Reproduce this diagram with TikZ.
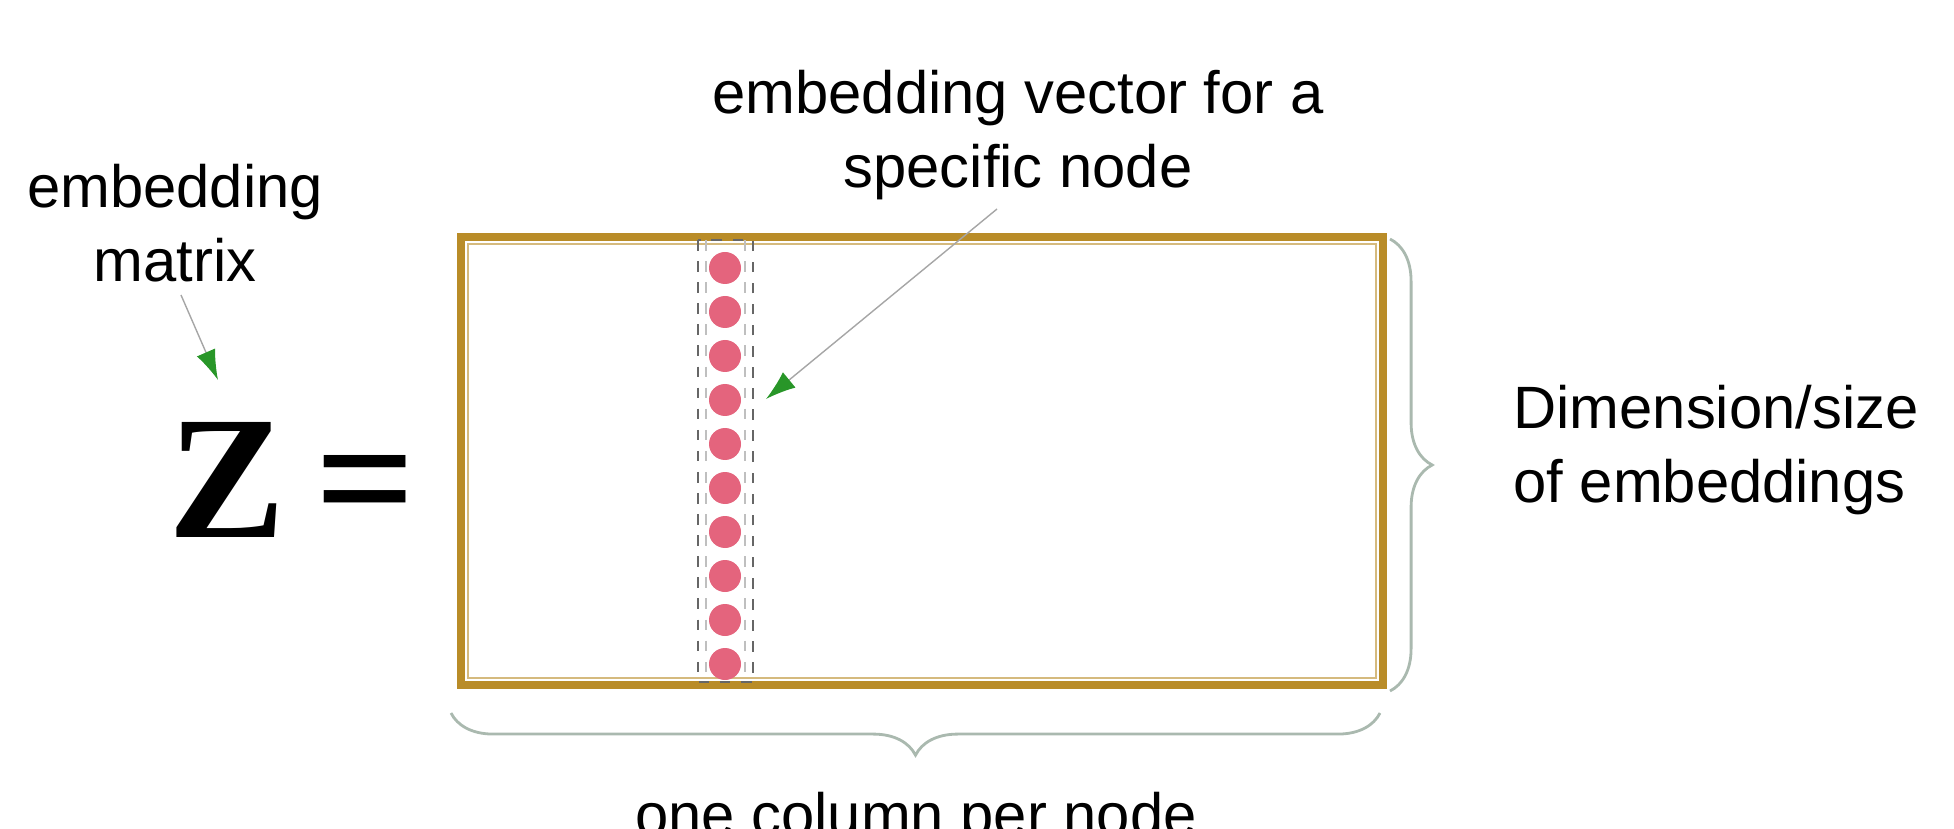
\documentclass[tikz,border=0pt]{standalone}
\usepackage{fontspec}
\setmainfont{Liberation Sans}
\newfontfamily\zfont{Liberation Serif}
\usetikzlibrary{decorations.pathreplacing,arrows.meta}
\definecolor{gold}{RGB}{185,140,40}
\definecolor{dotred}{RGB}{228,100,125}
\definecolor{pointer}{RGB}{40,150,40}
\definecolor{bracecol}{RGB}{170,185,175}

\begin{document}
\begin{tikzpicture}[x=1cm, y=1cm,
	lbl/.style={font=\fontsize{17pt}{21pt}\selectfont, align=center},
	ptr/.style={draw=gray!70, thin, -{Latex[length=3mm,width=2mm,color=pointer]}},
	brc/.style={draw=bracecol, thick, decorate, decoration={brace, amplitude=12pt}}]
\useasboundingbox (0,0) rectangle (19.54,8.28);

% matrix
\draw[gold, line width=2.5pt] (4.61,5.91) rectangle (13.83,1.43);
\draw[gold!60, line width=0.6pt] (4.68,5.84) rectangle (13.76,1.50);

% one column
\draw[gray!80!black, dashed, thick] (6.98,5.88) rectangle (7.53,1.46);
\draw[gray!50, dashed, thin] (7.06,5.88) -- (7.06,1.46);
\draw[gray!50, dashed, thin] (7.45,5.88) -- (7.45,1.46);
\foreach \i in {0,...,9}
	\fill[dotred] (7.25,{5.60-0.44*\i}) circle (0.16);

\node[lbl] (vec) at (10.18,6.93) {embedding vector for a\\specific node};
\node[lbl] (mat) at (1.75,6.05) {embedding\\matrix};
\node[font=\zfont\bfseries\fontsize{50pt}{54pt}\selectfont] (zeq) at (2.92,3.48) {Z\,=};
\coordinate (vtip) at (7.66,4.29);
\coordinate (mtip) at (2.18,4.48);
\draw[ptr] (9.97,6.19) -- (vtip);
\draw[ptr] (1.81,5.33) -- (mtip);

% braces
\draw[brc] (13.90,5.89) -- (13.90,1.37);
\node[lbl, align=left, anchor=west] (dim) at (15.01,3.78) {Dimension/size\\of embeddings};
\draw[brc] (13.80,1.15) -- (4.51,1.15);
\node[lbl] (col) at (9.16,0.08) {one column per node};
\end{tikzpicture}
\end{document}
